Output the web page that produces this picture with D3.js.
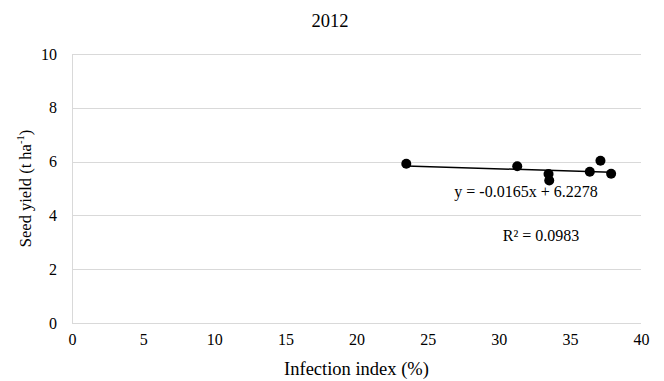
<!DOCTYPE html>
<html>
<head>
<meta charset="utf-8">
<script src="https://cdn.jsdelivr.net/npm/d3@7"></script>
<style>
  body { margin: 0; background: #fff; }
  svg text { font-family: "Liberation Serif", "Times New Roman", serif; fill: #000; }
</style>
</head>
<body>
<div id="chart"></div>
<script>
const infection = [23.5, 31.3, 33.5, 33.55, 36.4, 37.15, 37.9];
const yield_t = [5.92, 5.83, 5.54, 5.3, 5.62, 6.03, 5.55];
const xTicks = [0, 5, 10, 15, 20, 25, 30, 35, 40];
const yTicks = [0, 2, 4, 6, 8, 10];
const slope = -0.0165, intercept = 6.2278;
const equation = "y = -0.0165x + 6.2278";
const rSquared = "R² = 0.0983";

const width = 664, height = 381;
const margin = {top: 54, right: 23, bottom: 58, left: 72};
const serif = "Liberation Serif, Times New Roman, serif";

const x = d3.scaleLinear([0, 40], [margin.left, width - margin.right]);
const y = d3.scaleLinear([0, 10], [height - margin.bottom, margin.top]);

const svg = d3.select("#chart")
  .append("svg")
  .attr("width", width)
  .attr("height", height);

// grid
svg.append("g")
  .selectAll("line")
  .data(yTicks)
  .join("line")
  .attr("x1", x(0))
  .attr("x2", x(40))
  .attr("y1", d => Math.round(y(d)) + 0.5)
  .attr("y2", d => Math.round(y(d)) + 0.5)
  .attr("stroke", "#d9d9d9")
  .attr("stroke-width", 1);

svg.append("line")
  .attr("x1", Math.round(x(0)) + 0.5)
  .attr("x2", Math.round(x(0)) + 0.5)
  .attr("y1", y(0))
  .attr("y2", y(10))
  .attr("stroke", "#d9d9d9");

const xAxis = svg.append("g")
  .attr("transform", `translate(0,${y(0)})`)
  .call(d3.axisBottom(x).tickValues(xTicks).tickSize(0).tickPadding(11));
xAxis.attr("font-family", serif).attr("font-size", 16);
xAxis.select(".domain").remove();

const yAxis = svg.append("g")
  .attr("transform", `translate(${x(0)},0)`)
  .call(d3.axisLeft(y).tickValues(yTicks).tickSize(0).tickPadding(15));
yAxis.attr("font-family", serif).attr("font-size", 16);
yAxis.select(".domain").remove();

// trendline
const xMin = d3.min(infection), xMax = d3.max(infection);
svg.append("line")
  .attr("x1", x(xMin))
  .attr("x2", x(xMax))
  .attr("y1", y(slope * xMin + intercept))
  .attr("y2", y(slope * xMax + intercept))
  .attr("stroke", "#000")
  .attr("stroke-width", 1.5);

svg.append("g")
  .selectAll("circle")
  .data(infection)
  .join("circle")
  .attr("cx", d => x(d))
  .attr("cy", (d, i) => y(yield_t[i]))
  .attr("r", 5)
  .attr("fill", "#000");

svg.append("text")
  .attr("x", 526)
  .attr("y", 197)
  .attr("text-anchor", "middle")
  .style("font-size", "16px")
  .text(equation);

svg.append("text")
  .attr("x", 541)
  .attr("y", 241)
  .attr("text-anchor", "middle")
  .style("font-size", "16px")
  .text(rSquared);

svg.append("text")
  .attr("x", 330)
  .attr("y", 27)
  .attr("text-anchor", "middle")
  .style("font-size", "18.5px")
  .text("2012");

svg.append("text")
  .attr("x", (x(0) + x(40)) / 2)
  .attr("y", 375)
  .attr("text-anchor", "middle")
  .style("font-size", "18.5px")
  .text("Infection index (%)");

const yl = svg.append("text")
  .attr("transform", `translate(31,${(y(0) + y(10)) / 2}) rotate(-90)`)
  .attr("text-anchor", "middle")
  .style("font-size", "16.5px");
yl.append("tspan").text("Seed yield (t ha");
yl.append("tspan").attr("dy", -7).style("font-size", "10.5px").text("-1");
yl.append("tspan").attr("dy", 7).text(")");
</script>
</body>
</html>
